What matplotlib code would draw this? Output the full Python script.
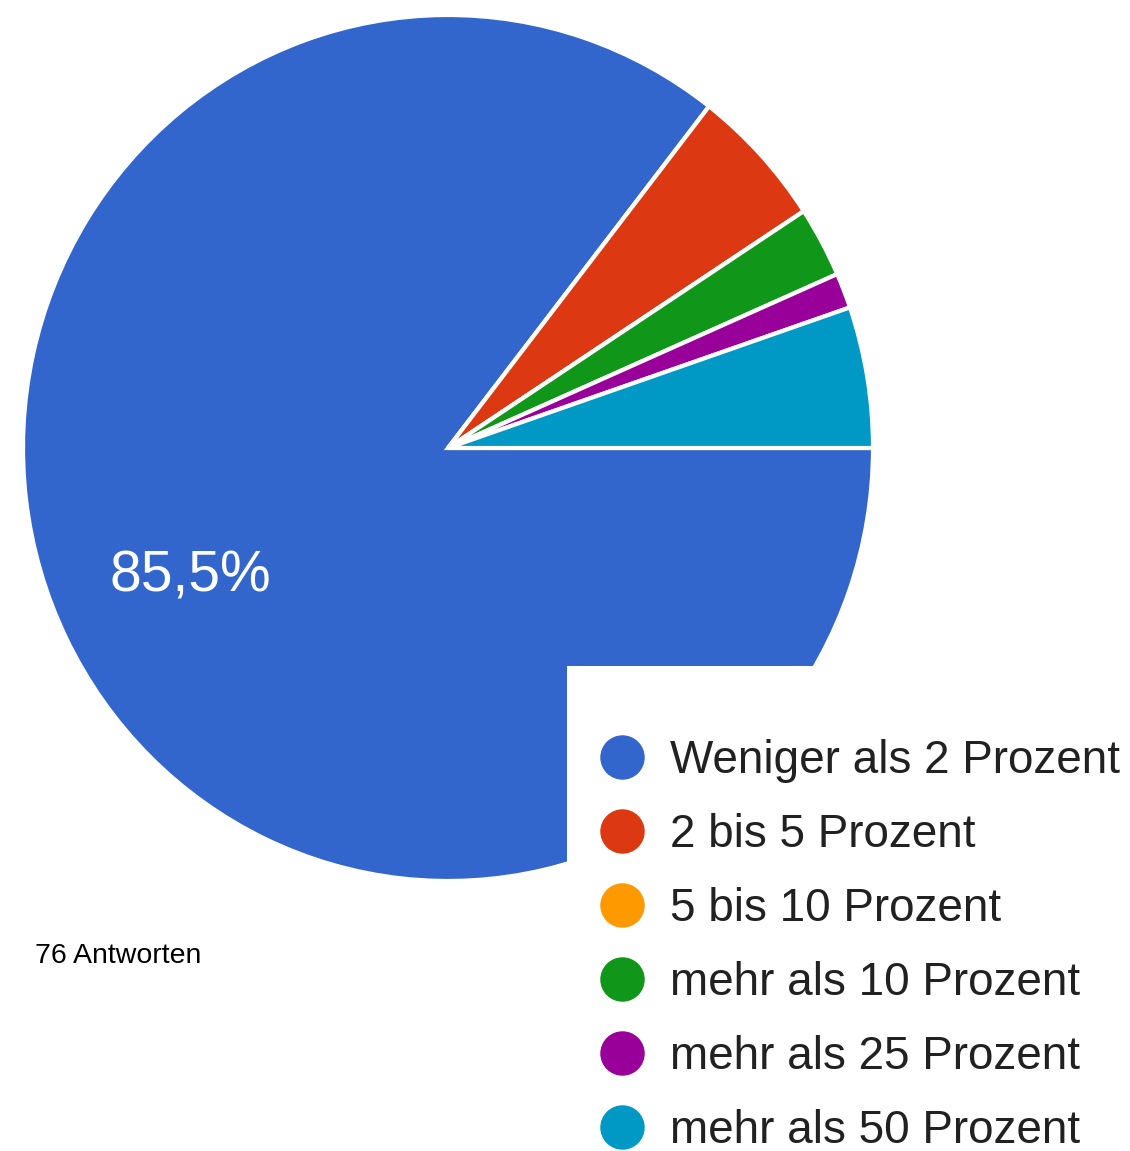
import matplotlib
matplotlib.use("Agg")
import matplotlib.pyplot as plt
from matplotlib.lines import Line2D
from matplotlib.patches import Rectangle

categories = ["Weniger als 2 Prozent", "2 bis 5 Prozent", "5 bis 10 Prozent",
              "mehr als 10 Prozent", "mehr als 25 Prozent", "mehr als 50 Prozent"]
counts = [65, 4, 0, 2, 1, 4]
colors = ["#3366CC", "#DC3912", "#FF9900", "#109618", "#990099", "#0099C6"]
total_label = "76 Antworten"

W, H = 1130, 1151
fig = plt.figure(figsize=(W / 100, H / 100), dpi=100)
ax = fig.add_axes([0, 0, 1, 1])
ax.set_axis_off()

# pixel-ish coordinates; slight vertical stretch to match reference ellipse
rx, ry = 425, 433
k = rx / ry
cx, cy = 448, 448

def fmt(p):
    return f"{p:.1f}%".replace(".", ",") if p > 10 else ""

wedges, texts, autotexts = ax.pie(
    counts, colors=colors, startangle=0, counterclock=False,
    center=(cx, (H - cy) * k), radius=rx, frame=True,
    autopct=fmt, pctdistance=0.675,
    wedgeprops=dict(edgecolor="white", linewidth=3),
    textprops=dict(color="white", fontsize=41, family="Liberation Sans"),
)
ax.set_xlim(0, W)
ax.set_ylim(0, H * k)
ax.set_aspect("auto")
ax.set_axis_off()

# white legend box
ax.add_patch(Rectangle((567, 0), W - 567, (H - 666) * k, facecolor="white",
                       edgecolor="none", zorder=5))

handles = [Line2D([], [], marker="o", linestyle="", markersize=31,
                  markerfacecolor=c, markeredgecolor=c) for c in colors]
leg = fig.legend(handles, categories, loc="upper left",
                 bbox_to_anchor=(569 / W, 1 - 716 / H), frameon=False,
                 prop=dict(family="Liberation Sans", size=33),
                 labelspacing=0.655, handletextpad=0.41, handlelength=1.3,
                 borderpad=0, labelcolor="#212121")
leg.set_zorder(10)

fig.text(35 / W, 1 - 956 / H, total_label, fontsize=20.5, family="Liberation Sans",
         color="black", va="center", ha="left")

fig.savefig("out.png", dpi=100, facecolor="white")
